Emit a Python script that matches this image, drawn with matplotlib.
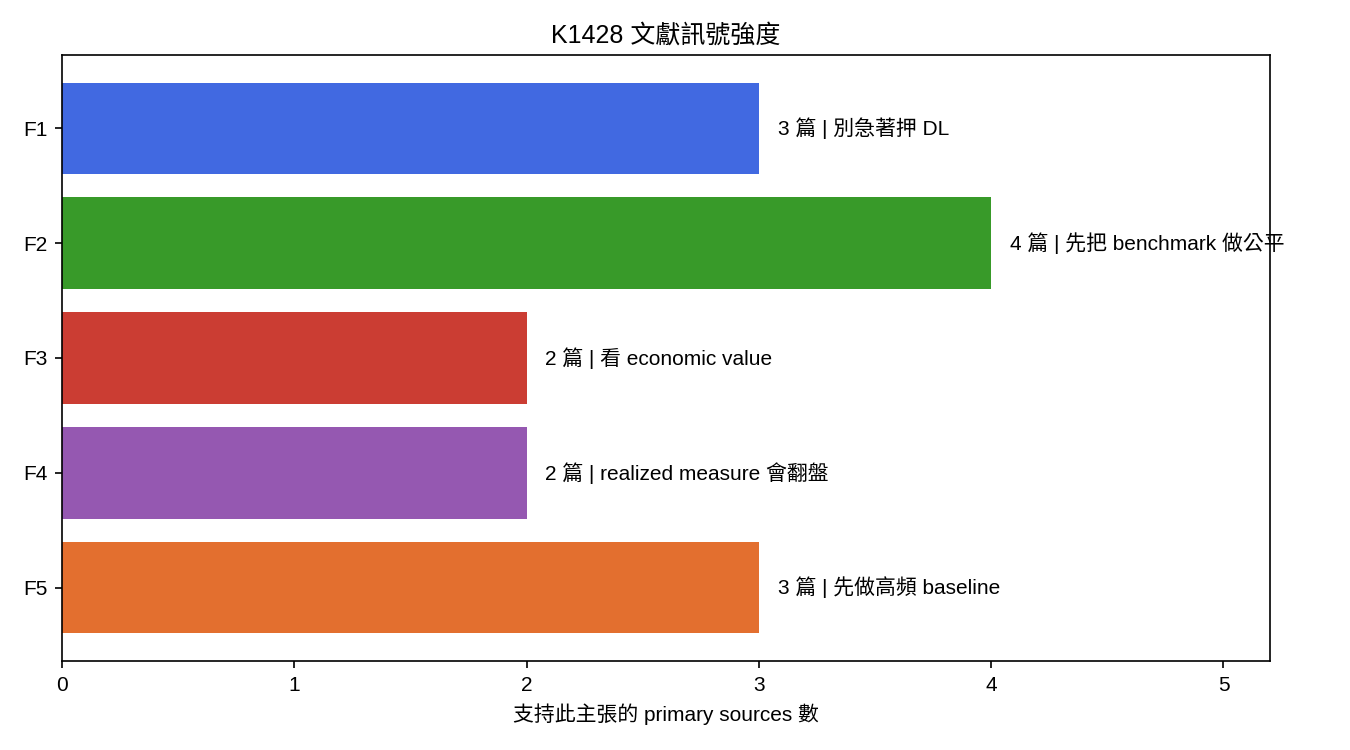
import matplotlib
matplotlib.use("Agg")
import matplotlib.pyplot as plt

plt.rcParams['font.family'] = ['Liberation Sans', 'Noto Sans CJK TC', 'DejaVu Sans']

# Findings and their source counts
findings = ["F1", "F2", "F3", "F4", "F5"]
counts = [3, 4, 2, 2, 3]
notes = ["別急著押 DL", "先把 benchmark 做公平", "看 economic value",
         "realized measure 會翻盤", "先做高頻 baseline"]
colors = ["#4169E1", "#389A29", "#CB3D33", "#9558B1", "#E36F2F"]

fig, ax = plt.subplots(figsize=(9, 5), dpi=150)
fig.subplots_adjust(left=0.046, right=0.9407, top=0.9267, bottom=0.1187)

ax.barh(findings, counts, color=colors, height=0.8)
ax.invert_yaxis()

# value + short note beside each bar
for i, (c, n) in enumerate(zip(counts, notes)):
    ax.text(c + 0.08, i, f"{c} 篇 | {n}", va="center")

ax.set_xlim(0, 5.2)
ax.set_xlabel("支持此主張的 primary sources 數")
ax.set_title("K1428 文獻訊號強度")

fig.savefig("out.png")
